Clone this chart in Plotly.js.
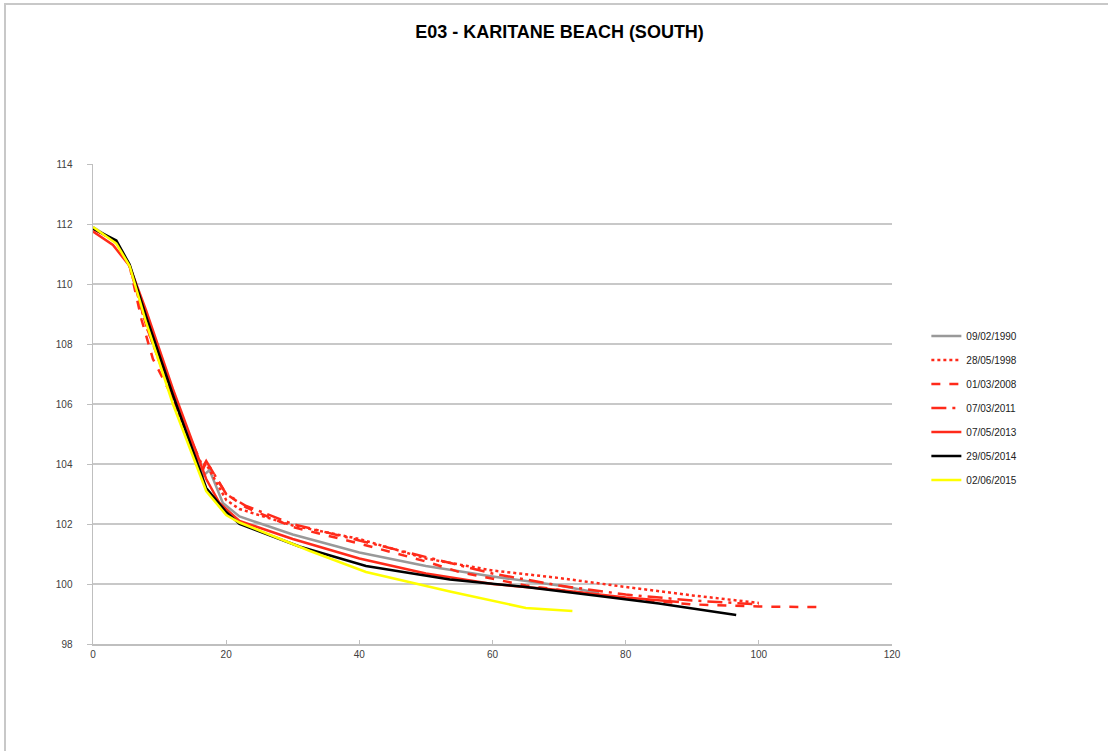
<!DOCTYPE html>
<html>
<head>
<meta charset="utf-8">
<script src="https://cdn.plot.ly/plotly-3.0.1.min.js"></script>
<style>
  html, body { margin: 0; padding: 0; background: #fff; }
  #frame { position: absolute; left: 4px; top: 3px; width: 1104px; height: 748px;
           border-left: 2px solid #c8c8c8; border-top: 2px solid #c8c8c8; }
  #chart { position: absolute; left: 0; top: 0; width: 1108px; height: 751px; }
</style>
</head>
<body>
<div id="frame"></div>
<div id="chart"></div>
<script>
// Series names
const seriesNames = ["09/02/1990", "28/05/1998", "01/03/2008", "07/03/2011", "07/05/2013", "29/05/2014", "02/06/2015"];

// Chainage (x) and level (y) for each survey
const x1990 = [0, 3.5, 5.5, 8, 12, 16.5, 17.5, 19.5, 22, 30, 40, 50, 60, 70, 76];
const y1990 = [111.9, 111.4, 110.6, 108.9, 106.3, 103.6, 103.8, 102.7, 102.25, 101.65, 101.05, 100.6, 100.25, 99.95, 99.7];

const x1998 = [0, 3.5, 5.5, 8, 12, 16, 17, 20, 22, 30, 40, 50, 60, 70, 80, 90, 100];
const y1998 = [111.85, 111.4, 110.6, 108.6, 106.2, 103.8, 104.0, 102.8, 102.5, 101.95, 101.5, 100.85, 100.45, 100.2, 99.9, 99.62, 99.37];

const x2008 = [0, 3.5, 5.5, 7.3, 9, 12, 16.5, 17, 20, 23, 30, 40, 50, 55, 65, 78, 90, 100, 109];
const y2008 = [111.85, 111.4, 110.6, 108.8, 107.5, 106.2, 103.8, 104.1, 103.0, 102.55, 101.9, 101.35, 100.75, 100.4, 99.95, 99.57, 99.32, 99.25, 99.23];

const x2011 = [0, 3.5, 5.5, 8, 12, 16.5, 17, 20, 23, 30, 40, 50, 60, 70, 80, 90, 100];
const y2011 = [111.85, 111.4, 110.6, 108.6, 106.2, 103.9, 104.1, 103.0, 102.6, 102.0, 101.45, 100.9, 100.35, 99.95, 99.65, 99.45, 99.32];

const x2013 = [0, 3, 5.5, 8, 12, 17, 19, 22, 30, 40, 50, 60, 70, 80, 88];
const y2013 = [111.75, 111.3, 110.6, 109.1, 106.5, 103.5, 102.7, 102.1, 101.5, 100.85, 100.35, 100.0, 99.8, 99.55, 99.4];

const x2014 = [0, 3.5, 5.5, 8, 12, 17, 20, 22, 31, 41, 53.6, 65, 76, 85, 96.6];
const y2014 = [111.85, 111.45, 110.65, 108.9, 106.3, 103.2, 102.4, 102.0, 101.25, 100.6, 100.15, 99.9, 99.6, 99.35, 98.97];

const x2015 = [0, 3.5, 5.5, 8, 12, 17, 20, 22, 32.6, 41, 53.6, 65, 72];
const y2015 = [111.9, 111.35, 110.6, 108.7, 106.0, 103.1, 102.3, 102.05, 101.1, 100.4, 99.75, 99.2, 99.1];

const xTicks = [0, 20, 40, 60, 80, 100, 120];
const yTicks = [98, 100, 102, 104, 106, 108, 110, 112, 114];

const xs = [x1990, x1998, x2008, x2011, x2013, x2014, x2015];
const ys = [y1990, y1998, y2008, y2011, y2013, y2014, y2015];
const colors = ["#999999", "#ff2a1a", "#ff2a1a", "#ff2a1a", "#ff2a1a", "#000000", "#ffff00"];
const dashes = ["solid", "dot", "dash", "longdashdot", "solid", "solid", "solid"];

const traces = seriesNames.map((n, i) => ({
  type: "scatter", mode: "lines", name: n,
  x: xs[i], y: ys[i], legendgroup: "g" + i,
  line: { color: colors[i], width: 2.5, dash: dashes[i] }
}));

const layout = {
  width: 1108, height: 751,
  paper_bgcolor: "rgba(0,0,0,0)", plot_bgcolor: "rgba(0,0,0,0)",
  margin: { l: 93, r: 216, t: 164, b: 107 },
  title: { text: "<b>E03 - KARITANE BEACH (SOUTH)</b>", x: 0.505, xanchor: "center", y: 0.958, yanchor: "middle",
           font: { family: "Liberation Sans Narrow, Liberation Sans, Arial", size: 18, color: "#000" } },
  xaxis: { range: [0, 120], tickvals: xTicks, ticktext: xTicks.map(String), showgrid: false, zeroline: false,
           showline: true, linecolor: "#bfbfbf", linewidth: 1.5, ticks: "inside", ticklen: 4, tickcolor: "#bfbfbf",
           tickfont: { family: "Liberation Sans Narrow, Liberation Sans, Arial", size: 10, color: "#404040" } },
  yaxis: { range: [98, 114], tickvals: yTicks, ticktext: yTicks.map(String), showgrid: true, gridcolor: "#c8c8c8", gridwidth: 1.5,
           zeroline: false, showline: true, linecolor: "#bfbfbf", linewidth: 1.5, ticks: "outside", ticklen: 5, tickcolor: "#bfbfbf",
           ticklabelstandoff: 12,
           tickfont: { family: "Liberation Sans Narrow, Liberation Sans, Arial", size: 10, color: "#404040" } },
  showlegend: true,
  legend: { x: 1.043, xanchor: "left", y: 0.672, yanchor: "top", traceorder: "grouped", tracegroupgap: 5,
            itemwidth: 30, bgcolor: "rgba(0,0,0,0)",
            font: { family: "Liberation Sans Narrow, Liberation Sans, Arial", size: 10, color: "#222" } }
};

Plotly.newPlot("chart", traces, layout, { displayModeBar: false, staticPlot: true });
</script>
</body>
</html>
